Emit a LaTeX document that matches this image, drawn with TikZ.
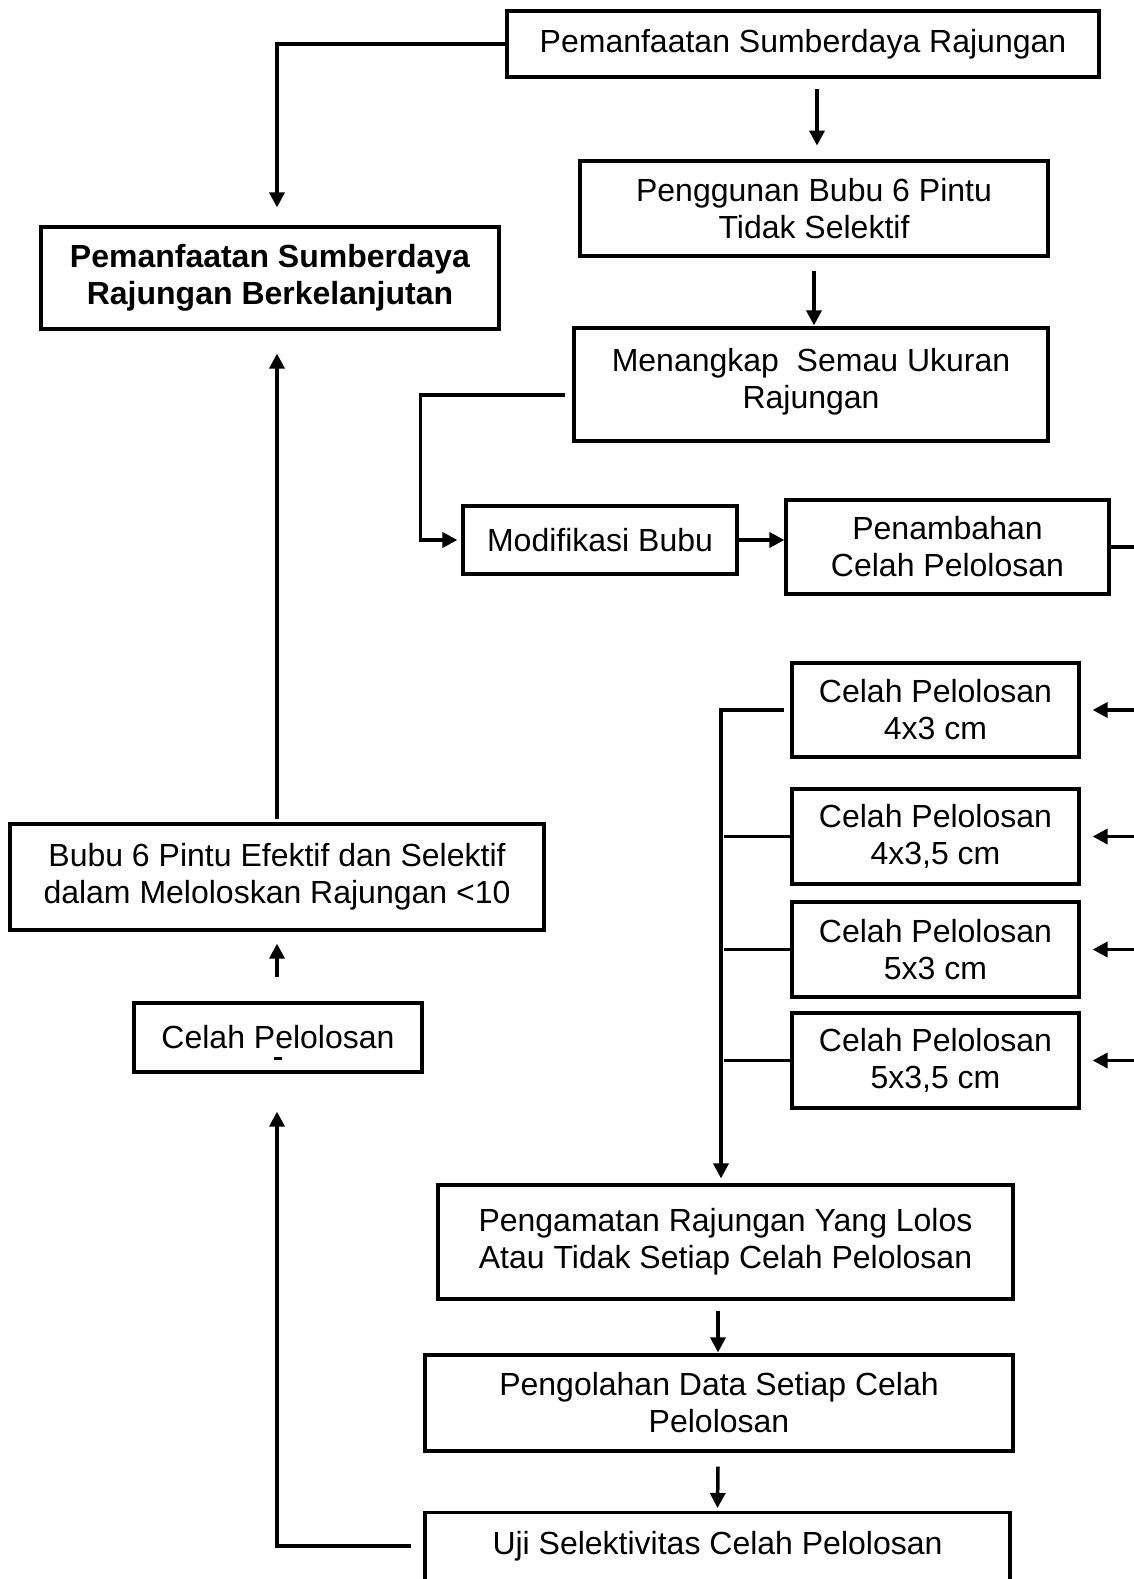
\documentclass[tikz,border=0pt]{standalone}
\usepackage{fontspec}
\setmainfont{Liberation Sans}
\usetikzlibrary{arrows.meta,calc}
\begin{document}
\begin{tikzpicture}[x=1pt,y=-1pt,
  box/.style={draw, line width=3.2pt, inner sep=0pt, align=center, font=\fontsize{32}{37}\selectfont},
  line/.style={line width=3.5pt},
  arr/.style={line width=3.5pt, -{Triangle[length=15pt,width=15pt]}}]
\useasboundingbox[fill=white] (0,0) rectangle (1133,1579);
\coordinate (lx) at (277,0);
\coordinate (colx) at (721,0);
% boxes
\node[box, minimum width=592pt, minimum height=66pt] (top) at (803,44) {Pemanfaatan Sumberdaya Rajungan};
\node[box, minimum width=468pt, minimum height=95pt] (peng) at (814,208.5) {Penggunan Bubu 6 Pintu\\Tidak Selektif};
\node[box, minimum width=474pt, minimum height=113pt, text depth=13pt] (men) at (811,384.5) {Menangkap\ \ Semau Ukuran\\Rajungan};
\node[box, minimum width=274pt, minimum height=68pt] (mod) at (600,540) {Modifikasi Bubu};
\node[box, minimum width=323pt, minimum height=94pt] (pen) at (947.5,547) {Penambahan\\Celah Pelolosan};
\node[box, minimum width=458pt, minimum height=102pt, font=\fontsize{32}{37}\selectfont\bfseries] (berk) at (270,278) {Pemanfaatan Sumberdaya\\Rajungan Berkelanjutan};
\node[box, minimum width=287pt, minimum height=94pt] (c1) at (935.5,710) {Celah Pelolosan\\4x3 cm};
\node[box, minimum width=287pt, minimum height=95pt] (c2) at (935.5,836.5) {Celah Pelolosan\\4x3,5 cm};
\node[box, minimum width=287pt, minimum height=95pt] (c3) at (935.5,949.5) {Celah Pelolosan\\5x3 cm};
\node[box, minimum width=287pt, minimum height=95pt] (c4) at (935.5,1060.5) {Celah Pelolosan\\5x3,5 cm};
\node[box, minimum width=534pt, minimum height=106pt] (bubu) at (277,877) {Bubu 6 Pintu Efektif dan Selektif\\dalam Meloloskan Rajungan <10};
\node[box, minimum width=288pt, minimum height=69pt] (cl) at (278,1037.5) {Celah Pelolosan};
\draw[line width=3pt] (274,1058) -- (282,1058);
\node[box, minimum width=575pt, minimum height=114pt] (pengam) at (725.5,1242) {Pengamatan Rajungan Yang Lolos\\Atau Tidak Setiap Celah Pelolosan};
\node[box, minimum width=588pt, minimum height=96pt] (pengol) at (719,1403) {Pengolahan Data Setiap Celah\\Pelolosan};
\node[box, minimum width=585pt, text height=42pt, text depth=47pt, anchor=north] (uji) at (717.5,1511) {Uji Selektivitas Celah Pelolosan};
% connectors
\draw[arr, shorten >=18pt] (top.west) -| (lx |- berk.north);
\draw[arr] ($(top.south)+(14,10)$) -- ($(top.south)+(14,67)$);
\draw[arr] ($(peng.south)+(0,13)$) -- ($(men.north)+(3,-1)$);
\draw[arr, shorten >=4pt] ($(men.west)+(-7,10.5)$) -| ($(mod.west)+(-41,0)$) -- (mod.west);
\draw[arr] (mod.east) -- (pen.west |- mod.east);
\draw[line] (pen.east) -- ++(30,0);
\foreach \c in {c1,c2,c3,c4}{
  \draw[arr, shorten >=12pt] ($(\c.east)+(60,0)$) -- (\c.east);
}
\draw[arr, shorten >=5pt] ($(c1.west)+(-6,0)$) -| (colx |- pengam.north);
\foreach \c in {c2,c3,c4}{
  \draw[line] (\c.west) -- ++(-66,0);
}
\draw[arr] ($(pengam.south)+(-7.5,10)$) -- ($(pengol.north)+(-1,-1)$);
\draw[arr, shorten >=3pt] ($(pengol.south)+(-1,14)$) -- (uji.north);
\draw[arr, shorten >=38pt] ($(uji.north west)+(-12,35)$) -| (lx |- cl.south);
\draw[arr] ($(cl.north)+(-1,-24)$) -- ($(bubu.south)+(0,12)$);
\draw[arr, shorten >=23pt] ($(bubu.north)+(0,-3)$) -- (lx |- berk.south);
\end{tikzpicture}
\end{document}
